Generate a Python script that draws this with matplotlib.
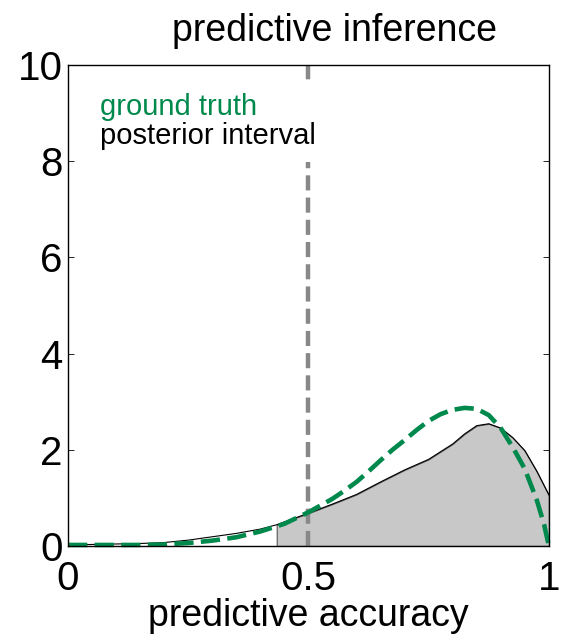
import matplotlib
matplotlib.use("Agg")
import matplotlib.pyplot as plt
from matplotlib.patches import Rectangle
import numpy as np

plt.rcParams["font.family"] = ["Liberation Sans", "DejaVu Sans"]

# posterior density (black outline, grey where inside interval)
post_x = [0, 0.05, 0.1, 0.15, 0.2, 0.25, 0.3, 0.35, 0.4, 0.434, 0.45, 0.5, 0.55,
          0.6, 0.65, 0.7, 0.75, 0.8, 0.825, 0.85, 0.875, 0.9, 0.925, 0.95, 0.975, 1.0]
post_y = [0.02, 0.03, 0.04, 0.05, 0.07, 0.12, 0.19, 0.26, 0.35, 0.44, 0.5, 0.68, 0.87,
          1.07, 1.33, 1.58, 1.8, 2.12, 2.33, 2.5, 2.54, 2.45, 2.25, 1.98, 1.55, 1.06]
interval_low = 0.434

# ground truth density (green dashed)
true_x = [0, 0.05, 0.1, 0.15, 0.2, 0.25, 0.3, 0.35, 0.4, 0.45, 0.5, 0.55, 0.575, 0.6,
          0.625, 0.65, 0.675, 0.7, 0.725, 0.75, 0.775, 0.8, 0.825, 0.85, 0.875, 0.9,
          0.925, 0.95, 0.975, 0.99, 1.0]
true_y = [0.02, 0.02, 0.02, 0.02, 0.03, 0.06, 0.11, 0.18, 0.3, 0.46, 0.7, 0.98, 1.15, 1.33,
          1.55, 1.78, 2.0, 2.2, 2.41, 2.6, 2.74, 2.83, 2.87, 2.85, 2.72, 2.45,
          2.05, 1.6, 0.95, 0.45, 0.0]

chance = 0.5
green = "#00894C"

fig = plt.figure(figsize=(5.67, 6.37), dpi=100)
ax = fig.add_axes([0.12, 0.143, 0.848, 0.755])

px = np.array(post_x)
py = np.array(post_y)
ax.fill_between(px, 0, py, where=px >= interval_low, color="#C8C8C8",
                edgecolor="#555555", linewidth=0.8)
ax.plot(px, py, color="black", linewidth=0.8)

ax.plot([chance, chance], [0, 10], color="#888888", linewidth=3.2,
        dashes=(3.4, 1.6), clip_on=False)

ax.plot(true_x, true_y, color=green, linewidth=3.3, dashes=(4.2, 1.6), clip_on=False)

# legend-like text block with white background (hides the dashed line)
ax.add_patch(Rectangle((0.05, 7.98), 0.5, 1.71, facecolor="white",
                       edgecolor="none", zorder=3))
ax.text(0.067, 8.96, "ground truth", color=green, fontsize=21, zorder=4)
ax.text(0.067, 8.36, "posterior interval", color="black", fontsize=21, zorder=4)

ax.set_xlim(0, 1)
ax.set_ylim(0, 10)
ax.set_xticks([0, 0.5, 1])
ax.set_xticklabels(["0", "0.5", "1"])
ax.set_yticks([0, 2, 4, 6, 8, 10])
ax.tick_params(direction="in", length=4, width=0.6, top=True, right=True, labelsize=29)
ax.tick_params(axis="x", pad=10)
ax.tick_params(axis="y", pad=4)
for s in ax.spines.values():
    s.set_linewidth(1.0)
    s.set_zorder(5)

ax.set_title("predictive inference", fontsize=27, pad=17, x=0.555)
ax.set_xlabel("predictive accuracy", fontsize=27, labelpad=0)

fig.savefig("out.png", dpi=100)
